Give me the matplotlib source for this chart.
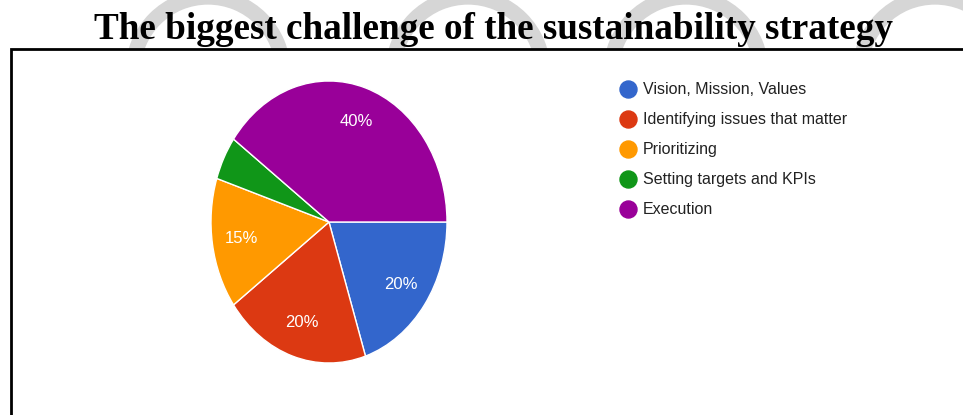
import matplotlib.pyplot as plt
from matplotlib.patches import Arc, Rectangle

# survey answers
labels = ['Vision, Mission, Values', 'Identifying issues that matter',
          'Prioritizing', 'Setting targets and KPIs', 'Execution']
shares = [20, 20, 15, 5, 40]
colors = ['#3366cc', '#dc3912', '#ff9900', '#109618', '#990099']
title = 'The biggest challenge of the sustainability strategy'

W, H = 963, 415
fig = plt.figure(figsize=(W / 100, H / 100), dpi=100)

# background layer in pixel units (y down)
bg = fig.add_axes([0, 0, 1, 1])
bg.set_xlim(0, W)
bg.set_ylim(H, 0)
bg.axis('off')

# faint logo rings behind the heading
for cx in [208, 468, 686, 935]:
    bg.add_patch(Arc((cx, 72), 150, 150, theta1=0, theta2=360,
                     lw=11, color='#d6d6d6', zorder=0))

# frame around the chart area
bg.add_patch(Rectangle((11, 49), 1000, 500, facecolor='white',
                       edgecolor='black', lw=2, zorder=1))

fig.text(493 / W, 1 - 39 / H, title, ha='center', va='baseline',
         fontsize=26.7, fontweight='bold', family='Liberation Serif', zorder=5)

# the pie itself, stretched a little taller than wide
ax = fig.add_axes([211 / W, 1 - 363 / H, 236 / W, 282 / H])
wedges, texts, autotexts = ax.pie(
    shares, colors=colors, startangle=0, counterclock=False,
    autopct=lambda p: f'{p:.0f}%' if p >= 10 else '', pctdistance=0.75,
    wedgeprops=dict(edgecolor='white', linewidth=1),
    textprops=dict(color='white', fontsize=12, family='Liberation Sans'))
ax.set_aspect('auto')
ax.set_xlim(-1, 1)
ax.set_ylim(-1, 1)

# legend
for i, (name, col) in enumerate(zip(labels, colors)):
    y = 89 + 30 * i
    bg.scatter(628, y, s=150, color=col, zorder=3)
    bg.text(643, y, name, va='center', ha='left', fontsize=11.5,
            family='Liberation Sans', color='#222222', zorder=3)

fig.savefig('out.png', dpi=100)
